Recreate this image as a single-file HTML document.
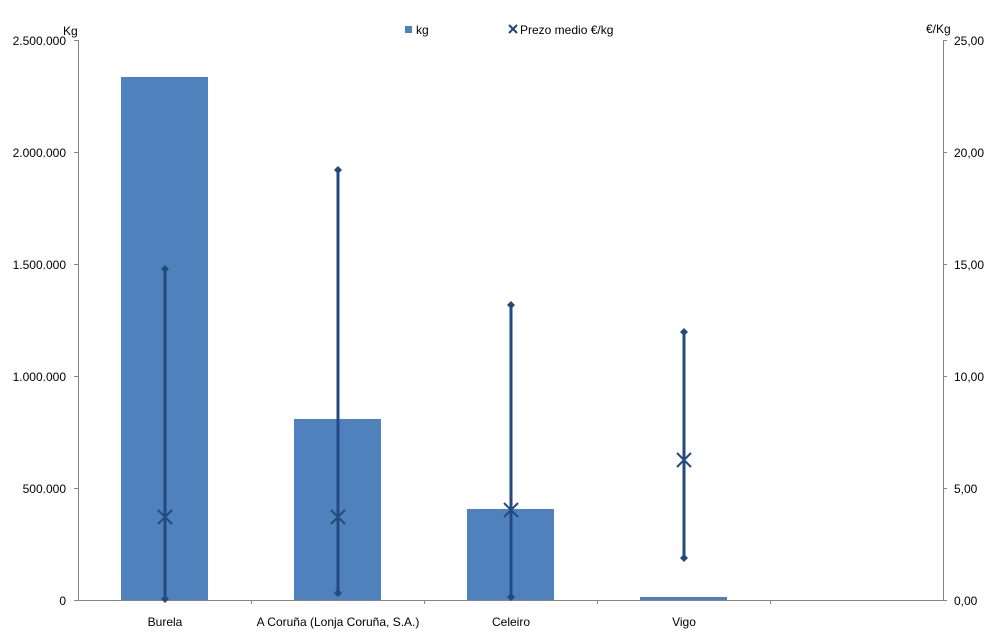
<!DOCTYPE html>
<html><head><meta charset="utf-8"><style>
html,body{margin:0;padding:0;background:#fff;}
svg{display:block;font-family:"Liberation Sans",sans-serif;font-size:12px;fill:#000;}
</style></head><body>
<svg width="997" height="642" viewBox="0 0 997 642" xmlns="http://www.w3.org/2000/svg">
<!-- bars -->
<g fill="#4f81bd">
<rect x="121" y="77" width="87" height="523"/>
<rect x="294" y="419" width="87" height="181"/>
<rect x="467" y="509" width="87" height="91"/>
<rect x="640" y="597" width="87" height="3"/>
</g>
<!-- axes -->
<g stroke="#868686" stroke-width="1" fill="none">
<line x1="78.5" y1="40" x2="78.5" y2="600"/>
<line x1="943.5" y1="40" x2="943.5" y2="600"/>
<line x1="78" y1="600.5" x2="943" y2="600.5"/>
<line x1="74" y1="40.5" x2="78" y2="40.5"/>
<line x1="74" y1="152.5" x2="78" y2="152.5"/>
<line x1="74" y1="264.5" x2="78" y2="264.5"/>
<line x1="74" y1="376.5" x2="78" y2="376.5"/>
<line x1="74" y1="488.5" x2="78" y2="488.5"/>
<line x1="74" y1="600.5" x2="78" y2="600.5"/>
<line x1="943" y1="40.5" x2="947" y2="40.5"/>
<line x1="943" y1="152.5" x2="947" y2="152.5"/>
<line x1="943" y1="264.5" x2="947" y2="264.5"/>
<line x1="943" y1="376.5" x2="947" y2="376.5"/>
<line x1="943" y1="488.5" x2="947" y2="488.5"/>
<line x1="943" y1="600.5" x2="947" y2="600.5"/>
<line x1="251.5" y1="600" x2="251.5" y2="604"/>
<line x1="424.5" y1="600" x2="424.5" y2="604"/>
<line x1="597.5" y1="600" x2="597.5" y2="604"/>
<line x1="770.5" y1="600" x2="770.5" y2="604"/>
</g>
<!-- left labels -->
<g text-anchor="end">
<text x="66" y="45">2.500.000</text>
<text x="66" y="157">2.000.000</text>
<text x="66" y="269">1.500.000</text>
<text x="66" y="381">1.000.000</text>
<text x="66" y="493">500.000</text>
<text x="66" y="605">0</text>
</g>
<g text-anchor="start">
<text x="954" y="45">25,00</text>
<text x="954" y="157">20,00</text>
<text x="954" y="269">15,00</text>
<text x="954" y="381">10,00</text>
<text x="954" y="493">5,00</text>
<text x="954" y="605">0,00</text>
</g>
<text x="63" y="35">Kg</text>
<text x="926" y="33">€/Kg</text>
<g text-anchor="middle">
<text x="165" y="626">Burela</text>
<text x="338" y="626">A Coruña (Lonja Coruña, S.A.)</text>
<text x="511" y="626">Celeiro</text>
<text x="684" y="626">Vigo</text>
</g>
<!-- legend -->
<rect x="405" y="26" width="7" height="7" fill="#4f81bd"/>
<text x="416" y="34">kg</text>
<g stroke="#1f497d" stroke-width="2"><line x1="509" y1="25" x2="517" y2="33"/><line x1="517" y1="25" x2="509" y2="33"/></g>
<text x="520" y="34">Prezo medio €/kg</text>
<!-- error lines -->
<g stroke="#234a7e" stroke-width="3">
<line x1="165" y1="269" x2="165" y2="599"/>
<line x1="338" y1="170" x2="338" y2="593"/>
<line x1="511" y1="305" x2="511" y2="597"/>
<line x1="684" y1="332" x2="684" y2="558"/>
</g>
<g fill="#234a7e">
<path d="M165 265l4 4-4 4-4-4z"/><path d="M165 595l4 4-4 4-4-4z"/>
<path d="M338 166l4 4-4 4-4-4z"/><path d="M338 589l4 4-4 4-4-4z"/>
<path d="M511 301l4 4-4 4-4-4z"/><path d="M511 593l4 4-4 4-4-4z"/>
<path d="M684 328l4 4-4 4-4-4z"/><path d="M684 554l4 4-4 4-4-4z"/>
</g>
<g stroke="#234a7e" stroke-width="2">
<path d="M158 510l14 14M172 510l-14 14"/>
<path d="M331 510l14 14M345 510l-14 14"/>
<path d="M504 503l14 14M518 503l-14 14"/>
<path d="M677 453l14 14M691 453l-14 14"/>
</g>
</svg>
</body></html>
